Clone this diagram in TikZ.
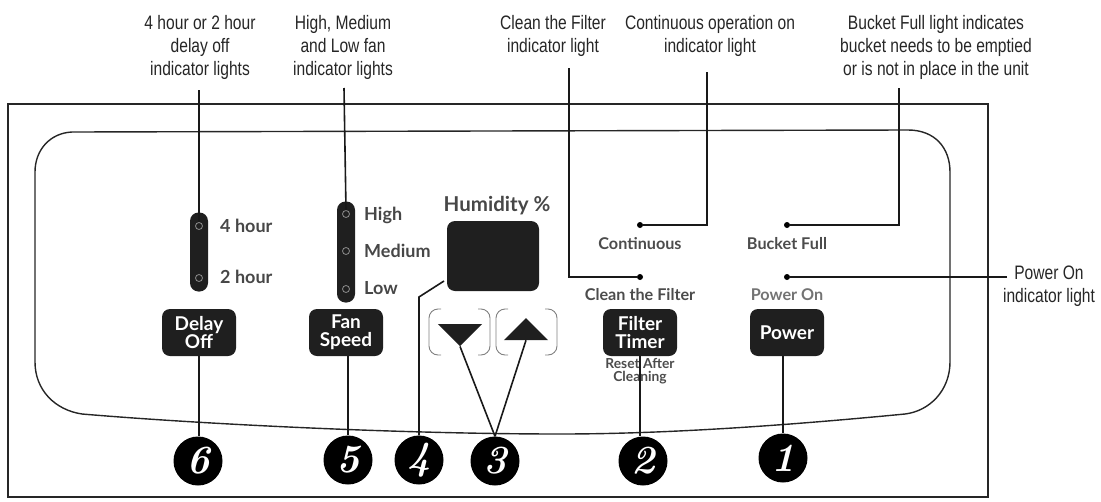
\documentclass[tikz,border=0pt]{standalone}
\usepackage{fontspec}
\usepackage{tikz}
\usetikzlibrary{shapes.geometric}
\newfontfamily\notefont[FakeStretch=0.8]{Liberation Sans}
\newfontfamily\panelfont{Lato}

\tikzset{
    leader/.style={line width=1.6pt, black!90},
    notetext/.style={font=\notefont\fontsize{19.5}{23}\selectfont, align=center, text=black!85, inner sep=0pt},
    paneltext/.style={font=\panelfont\bfseries\fontsize{18}{17}\selectfont, text=black!72, inner sep=0pt},
    smalltext/.style={font=\panelfont\bfseries\fontsize{16.2}{13}\selectfont, text=black!70, inner sep=0pt},
    keybox/.style={draw=none, fill=black!88, rounded corners=8pt, minimum width=74pt, minimum height=47pt, inner sep=0pt, align=center, text=white, font=\panelfont\bfseries\fontsize{19}{18}\selectfont},
    slotbox/.style={fill=black!88, rounded corners=8.5pt, minimum width=18pt, inner sep=0pt},
    ledring/.style={circle, draw=black!45, fill=black!88, line width=0.8pt, minimum size=7pt, inner sep=0pt},
    leddot/.style={circle, fill=black, minimum size=6pt, inner sep=0pt},
    numdisc/.style={circle, fill=black, minimum size=49pt, inner sep=0pt, text=white, font=\bfseries\itshape\fontsize{40}{40}\selectfont},
    arrowkey/.style={regular polygon, regular polygon sides=3, fill=black!88, inner sep=0pt, minimum size=51pt, yscale=0.58},
    bracket/.style={draw=black!50, line width=0.9pt, rounded corners=9pt}
}

\begin{document}
\begin{tikzpicture}[x=1pt, y=-1pt]
    \useasboundingbox (0,0) rectangle (1101,501);

    % Outer frame
    \draw[line width=1.7pt, black!85] (8,104) rectangle (988,497);

    % Panel outline
    \draw[line width=1.4pt, black!85] (72,132) -- (908,130)
        .. controls (935,130) and (950,148) .. (950,172) -- (950,362)
        .. controls (950,390) and (930,411) .. (905,414)
        .. controls (760,428) and (650,434) .. (560,434)
        .. controls (400,434) and (200,424) .. (82,414)
        .. controls (55,410) and (35,390) .. (35,362) -- (35,172)
        .. controls (35,150) and (50,133) .. (72,132);

    % Top notes
    \node[notetext] (notedelay) at (200,47) {4 hour or 2 hour\\delay off\\indicator lights};
    \node[notetext] (notefan) at (343,47) {High, Medium\\and Low fan\\indicator lights};
    \node[notetext] (noteclean) at (553,35.5) {Clean the Filter\\indicator light};
    \node[notetext] (notecont) at (710,35.5) {Continuous operation on\\indicator light};
    \node[notetext] (notebucket) at (936,47) {Bucket Full light indicates\\bucket needs to be emptied\\or is not in place in the unit};
    \node[notetext] (notepower) at (1049,286.5) {Power On\\indicator light};

    % Delay off
    \node[slotbox, minimum height=79pt] (slotdelay) at (199,252) {};
    \node[ledring] (led4h) at (199,226) {};
    \node[ledring] (led2h) at (199,278) {};
    \node[paneltext, anchor=west] (txt4h) at (220,226) {4 hour};
    \node[paneltext, anchor=west] (txt2h) at (220,277) {2 hour};
    \node[keybox] (keydelay) at (199,332.5) {Delay\\Off};

    % Fan speed
    \node[slotbox, minimum height=101pt] (slotfan) at (346,252) {};
    \node[ledring] (ledhigh) at (346,214) {};
    \node[ledring] (ledmed) at (346,251) {};
    \node[ledring] (ledlow) at (346,289) {};
    \node[paneltext, anchor=west] (txthigh) at (364,215) {High};
    \node[paneltext, anchor=west] (txtmed) at (364,251) {Medium};
    \node[paneltext, anchor=west] (txtlow) at (364,288) {Low};
    \node[keybox] (keyfan) at (346,332.5) {Fan\\Speed};

    % Humidity display
    \node[paneltext, font=\panelfont\bfseries\fontsize{20.5}{17}\selectfont] (txthum) at (497,206) {Humidity \%};
    \node[fill=black!88, rounded corners=8pt, minimum width=92pt, minimum height=70pt, inner sep=0pt] (display) at (493,256) {};

    % Up and down keys
    \draw[bracket] (441,309) -- (429,309) -- (429,355) -- (441,355);
    \draw[bracket] (478,309) -- (490,309) -- (490,355) -- (478,355);
    \draw[bracket] (508,309) -- (496,309) -- (496,355) -- (508,355);
    \draw[bracket] (545,309) -- (557,309) -- (557,355) -- (545,355);
    \node[arrowkey, shape border rotate=180] (keydown) at (460,331.4) {};
    \node[arrowkey] (keyup) at (526,332.8) {};

    % Right hand lights
    \node[leddot] (dotcont) at (640,225) {};
    \node[smalltext] (txtcont) at (640,244) {Continuous};
    \node[leddot] (dotclean) at (640,277) {};
    \node[smalltext] (txtclean) at (640,295) {Clean the Filter};
    \node[keybox] (keyfilter) at (640,332.5) {Filter\\Timer};
    \node[smalltext, align=center, font=\panelfont\bfseries\fontsize{13.8}{13}\selectfont] (txtreset) at (640,371) {Reset After\\Cleaning};
    \node[leddot] (dotbucket) at (787,225) {};
    \node[smalltext] (txtbucket) at (787,244) {Bucket Full};
    \node[leddot] (dotpower) at (787,277) {};
    \node[smalltext, text=black!55] (txtpower) at (787,295) {Power On};
    \node[keybox] (keypower) at (787,332.5) {Power};

    % Numbered discs
    \node[numdisc] (num6) at (198,461) {6};
    \node[numdisc] (num5) at (348,460) {5};
    \node[numdisc] (num4) at (419,460) {4};
    \node[numdisc] (num3) at (495,461) {3};
    \node[numdisc] (num2) at (643,461) {2};
    \node[numdisc] (num1) at (783,458) {1};

    % Free ends of the leaders
    \coordinate (enddelay) at (199,90);
    \coordinate (endfan) at (344,88);
    \coordinate (endclean) at (569,68);
    \coordinate (endcont) at (707,72);
    \coordinate (endbucket) at (899,88);
    \coordinate (endpower) at (1007,277);
    \coordinate (enddisplay) at (444,281);
    \coordinate (bend4) at (419,297);

    % Connections
    \draw[leader] (enddelay) -- (led4h.north);
    \draw[leader] (endfan) -- (ledhigh.north);
    \draw[leader] (endclean) |- (dotclean);
    \draw[leader] (endcont) |- (dotcont);
    \draw[leader] (endbucket) |- (dotbucket);
    \draw[leader] (endpower) -- (dotpower);
    \draw[leader] (keydelay.south) -- (keydelay.south |- num6.north);
    \draw[leader] (keyfan.south -| num5) -- (num5.north);
    \draw[leader] (num4.north) -- (bend4) -- (enddisplay);
    \draw[leader] (num3.north) -- (keydown.south);
    \draw[leader] (num3.north) -- (keyup.south);
    \draw[leader] (keyfilter.south) -- (keyfilter.south |- num2.north);
    \draw[leader] (keypower.south -| num1) -- (num1.north);
\end{tikzpicture}
\end{document}
